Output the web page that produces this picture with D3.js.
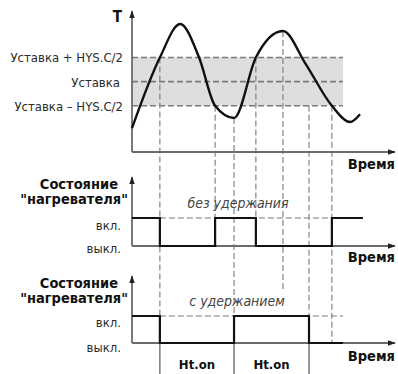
<!DOCTYPE html>
<html>
<head>
<meta charset="utf-8">
<script src="https://cdn.jsdelivr.net/npm/d3@7"></script>
<style>
  html, body { margin: 0; padding: 0; background: #fff; }
  svg { display: block; }
  text { font-family: "Liberation Sans Narrow", "Arial Narrow", "DejaVu Sans Condensed", sans-serif; }
</style>
</head>
<body>
<svg id="chart" width="398" height="374"></svg>
<script>
// Temperature readings: time (arbitrary units) and temperature
const tempTime  = [0, 10.6, 18.3, 25.5, 31.6, 38.8, 47.1, 57.4, 66.0, 76.0, 82.9, 86.7];
const tempValue = [17, 67.5, 91.4, 67.5, 33, 24.3, 67.5, 86.4, 63, 33, 21.4, 27];

// Regulator settings
const setpoint = 50.3;
const hysteresis = 34.5;
const bandEnd = 80.2;

// Heater switching moments: [time, state] (1 = on, 0 = off)
const noHoldTimes  = [0, 10.6, 31.6, 47.1, 76.0, 87.8];
const noHoldStates = [1, 0, 1, 0, 1, 1];
const holdTimes    = [0, 10.6, 38.8, 67.3, 80.2];
const holdStates   = [1, 0, 1, 0, 0];

// Guide lines: time, start temperature, and where they stop
const guideTimes  = [10.6, 31.6, 38.8, 47.1, 57.4, 67.3, 76.0];
const guideTemps  = [67.5, 33, 24.3, 67.5, 86.4, 33, 33];
const guideEnds   = ["below", "mid", "below", "mid", "hold-top", "below", "hold"];

// Labels
const bandLabels  = ["Уставка + HYS.C/2", "Уставка", "Уставка – HYS.C/2"];
const stateLabels = ["вкл.", "выкл."];
const timeLabel = "Время";
const tempLabel = "T";
const heaterLabel = ["Состояние", "\"нагревателя\""];
const modeLabels = ["без удержания", "с удержанием"];
const timerLabel = "Ht.on";

const svg = d3.select("#chart");
const x = d3.scaleLinear().domain([0, 100]).range([132, 395]);
const yT = d3.scaleLinear().domain([0, 100]).range([152, 12]);
const yMid = d3.scaleLinear().domain([0, 1]).range([246, 218]);
const yLow = d3.scaleLinear().domain([0, 1]).range([343, 316]);

const axisColor = "#6b6b6b";
const dashColor = "#7a7a7a";
const textColor = "#2b2b2b";

// arrowhead marker
svg.append("defs").append("marker")
  .attr("id", "arr").attr("viewBox", "0 0 10 10")
  .attr("refX", 9).attr("refY", 5)
  .attr("markerWidth", 8).attr("markerHeight", 8)
  .attr("markerUnits", "userSpaceOnUse")
  .attr("orient", "auto-start-reverse")
  .append("path").attr("d", "M0,1.5 L10,5 L0,8.5 Z").attr("fill", "#222");

// hysteresis band
const upper = setpoint + hysteresis / 2, lower = setpoint - hysteresis / 2;
svg.append("rect")
  .attr("x", x(0)).attr("y", yT(upper))
  .attr("width", x(bandEnd) - x(0)).attr("height", yT(lower) - yT(upper))
  .attr("fill", "#dedede");

[upper, setpoint, lower].forEach(v => {
  svg.append("line")
    .attr("x1", x(0)).attr("x2", x(bandEnd))
    .attr("y1", yT(v)).attr("y2", yT(v))
    .attr("stroke", dashColor).attr("stroke-width", 1.6)
    .attr("stroke-dasharray", "6,3");
});

// vertical guides
const endY = { below: 374, mid: yMid(0), hold: yLow(0), "hold-top": 290 };
guideTimes.forEach((t, i) => {
  const gx = x(t);
  const yEnd = endY[guideEnds[i]];
  const dashedEnd = guideEnds[i] === "below" ? yLow(0) : yEnd;
  svg.append("line")
    .attr("x1", gx).attr("x2", gx)
    .attr("y1", yT(guideTemps[i])).attr("y2", dashedEnd)
    .attr("stroke", dashColor).attr("stroke-width", 1.1)
    .attr("stroke-dasharray", "6,3");
  if (guideEnds[i] === "below") {
    svg.append("line")
      .attr("x1", gx).attr("x2", gx)
      .attr("y1", yLow(0)).attr("y2", yEnd)
      .attr("stroke", "#555").attr("stroke-width", 1.2);
  }
});

// on-level dashed references in the state charts
svg.append("line")
  .attr("x1", x(noHoldTimes[1])).attr("x2", x(noHoldTimes[4]))
  .attr("y1", yMid(1)).attr("y2", yMid(1))
  .attr("stroke", dashColor).attr("stroke-width", 1.1).attr("stroke-dasharray", "6,3");
svg.append("line")
  .attr("x1", x(holdTimes[1])).attr("x2", x(bandEnd))
  .attr("y1", yLow(1)).attr("y2", yLow(1))
  .attr("stroke", dashColor).attr("stroke-width", 1.1).attr("stroke-dasharray", "6,3");

// axes
function axes(yTop, yBase) {
  svg.append("line")
    .attr("x1", x(0)).attr("x2", x(0)).attr("y1", yBase).attr("y2", yTop)
    .attr("stroke", axisColor).attr("stroke-width", 1.8)
    .attr("marker-end", "url(#arr)");
  svg.append("line")
    .attr("x1", x(0)).attr("x2", x(100)).attr("y1", yBase).attr("y2", yBase)
    .attr("stroke", axisColor).attr("stroke-width", 1.8)
    .attr("marker-end", "url(#arr)");
}
axes(11, yT(0));
axes(177, yMid(0));
axes(276, yLow(0));

// temperature curve
const pts = tempTime.map((t, i) => [t, tempValue[i]]);
svg.append("path")
  .datum(pts)
  .attr("d", d3.line().x(d => x(d[0])).y(d => yT(d[1])).curve(d3.curveMonotoneX))
  .attr("fill", "none").attr("stroke", "#111").attr("stroke-width", 2.4);

// heater state lines
function stateLine(times, states, ys) {
  const data = times.map((t, i) => [t, states[i]]);
  svg.append("path")
    .datum(data)
    .attr("d", d3.line().x(d => x(d[0])).y(d => ys(d[1])).curve(d3.curveStepAfter))
    .attr("fill", "none").attr("stroke", "#111").attr("stroke-width", 2.2);
}
stateLine(noHoldTimes, noHoldStates, yMid);
stateLine(holdTimes, holdStates, yLow);

// text
function txt(s, tx, ty, opts = {}) {
  return svg.append("text")
    .attr("x", tx).attr("y", ty)
    .attr("text-anchor", opts.anchor || "start")
    .attr("font-size", opts.size || 12)
    .attr("font-weight", opts.weight || "normal")
    .attr("font-style", opts.style || "normal")
    .attr("fill", opts.color || textColor)
    .text(s);
}

txt(tempLabel, 122, 22, { anchor: "end", size: 15, weight: "bold", color: "#111" });
txt(bandLabels[0], 123, yT(upper) + 5, { anchor: "end", size: 13 });
txt(bandLabels[1], 120, yT(setpoint) + 5, { anchor: "end", size: 13 });
txt(bandLabels[2], 123, yT(lower) + 5, { anchor: "end", size: 13 });

[169, 262, 361].forEach(ty => {
  txt(timeLabel, 395, ty, { anchor: "end", size: 14.5, weight: "bold", color: "#111" });
});

[[189, 204], [288, 303]].forEach(([y1, y2]) => {
  txt(heaterLabel[0], 118, y1, { anchor: "end", size: 14.5, weight: "bold", color: "#111" });
  txt(heaterLabel[1], 128, y2, { anchor: "end", size: 14.5, weight: "bold", color: "#111" });
});

txt(stateLabels[0], 121, 230, { anchor: "end", size: 13 });
txt(stateLabels[1], 121, 253, { anchor: "end", size: 13 });
txt(stateLabels[0], 121, 327, { anchor: "end", size: 13 });
txt(stateLabels[1], 121, 352, { anchor: "end", size: 13 });

txt(modeLabels[0], 238, 208, { anchor: "middle", size: 14, style: "italic", color: "#444" });
txt(modeLabels[1], 237, 306, { anchor: "middle", size: 14, style: "italic", color: "#444" });

txt(timerLabel, x((holdTimes[1] + holdTimes[2]) / 2), 369, { anchor: "middle", size: 13, weight: "bold", color: "#111" });
txt(timerLabel, x((holdTimes[2] + holdTimes[3]) / 2), 369, { anchor: "middle", size: 13, weight: "bold", color: "#111" });
</script>
</body>
</html>
